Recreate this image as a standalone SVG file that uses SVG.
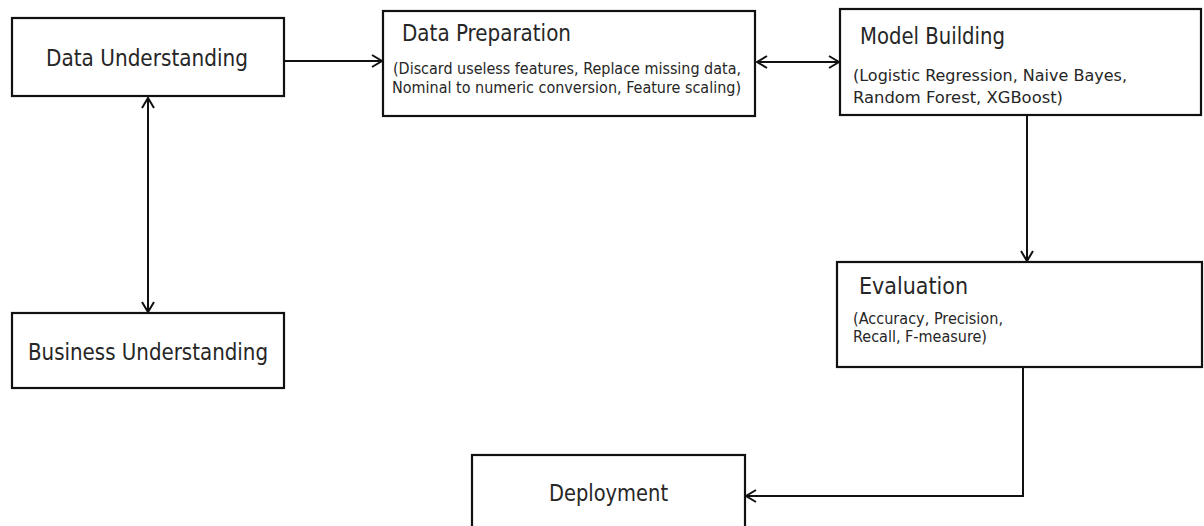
<svg xmlns="http://www.w3.org/2000/svg" width="1204" height="526" viewBox="0 0 1204 526">
<style>
.box{fill:#fff;stroke:#111;stroke-width:2.2}
.t{font-family:"DejaVu Sans Condensed","DejaVu Sans",sans-serif;fill:#262626}
.big{font-size:22.5px}
.small{font-size:15px}
.mid{font-size:16.5px}
.c{fill:none;stroke:#111;stroke-width:2}
</style>
<defs>
<marker id="ah" markerUnits="userSpaceOnUse" markerWidth="14" markerHeight="16" refX="11" refY="7" orient="auto-start-reverse" viewBox="0 0 14 14">
<path d="M1,1 L11,7 L1,13" fill="none" stroke="#111" stroke-width="2"/>
</marker>
</defs>
<rect width="1204" height="526" fill="#fff"/>
<g id="connectors">
<line class="c" x1="285" y1="61" x2="382" y2="61" marker-end="url(#ah)"/>
<line class="c" x1="757" y1="62" x2="839" y2="62" marker-start="url(#ah)" marker-end="url(#ah)"/>
<line class="c" x1="148" y1="98" x2="148" y2="312" marker-start="url(#ah)" marker-end="url(#ah)"/>
<line class="c" x1="1027" y1="116" x2="1027" y2="261" marker-end="url(#ah)"/>
<polyline class="c" points="1023,368 1023,496 746,496" marker-end="url(#ah)"/>
</g>
<g id="data-understanding">
<rect class="box" x="12" y="18" width="272" height="78"/>
<text class="t big" x="46" y="66" textLength="202" lengthAdjust="spacingAndGlyphs">Data Understanding</text>
</g>
<g id="data-preparation">
<rect class="box" x="383" y="11" width="372" height="105"/>
<text class="t big" x="402" y="41" textLength="169" lengthAdjust="spacingAndGlyphs">Data Preparation</text>
<text class="t small" x="393" y="74" textLength="348" lengthAdjust="spacingAndGlyphs">(Discard useless features, Replace missing data,</text>
<text class="t small" x="392" y="92.5" textLength="349" lengthAdjust="spacingAndGlyphs">Nominal to numeric conversion, Feature scaling)</text>
</g>
<g id="model-building">
<rect class="box" x="840" y="9" width="361" height="106"/>
<text class="t big" x="860" y="44" textLength="145" lengthAdjust="spacingAndGlyphs">Model Building</text>
<text class="t mid" x="853" y="81" textLength="274" lengthAdjust="spacingAndGlyphs">(Logistic Regression, Naive Bayes,</text>
<text class="t mid" x="853" y="103" textLength="210" lengthAdjust="spacingAndGlyphs">Random Forest, XGBoost)</text>
</g>
<g id="evaluation">
<rect class="box" x="837" y="262" width="365" height="105"/>
<text class="t big" x="859" y="294" textLength="109" lengthAdjust="spacingAndGlyphs">Evaluation</text>
<text class="t small" x="853" y="324" textLength="150" lengthAdjust="spacingAndGlyphs">(Accuracy, Precision,</text>
<text class="t small" x="853" y="342" textLength="134" lengthAdjust="spacingAndGlyphs">Recall, F-measure)</text>
</g>
<g id="business-understanding">
<rect class="box" x="12" y="313" width="272" height="75"/>
<text class="t big" x="28" y="360" textLength="240" lengthAdjust="spacingAndGlyphs">Business Understanding</text>
</g>
<g id="deployment">
<rect class="box" x="472" y="455" width="273" height="80"/>
<text class="t big" x="549" y="501" textLength="119" lengthAdjust="spacingAndGlyphs">Deployment</text>
</g>
</svg>
